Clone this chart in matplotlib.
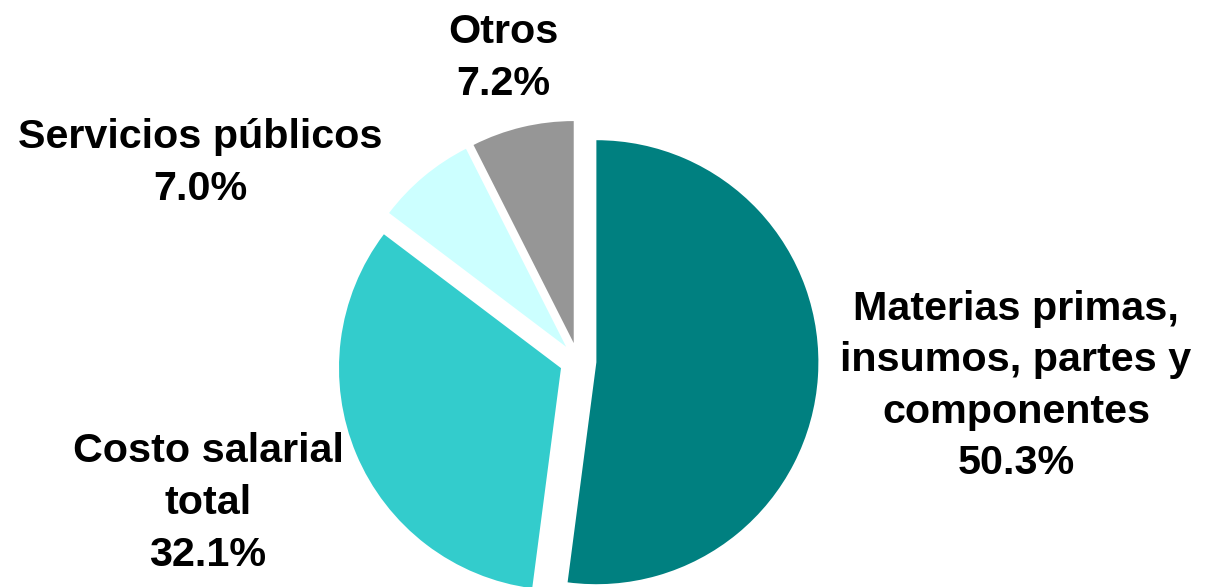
import matplotlib.pyplot as plt

# cost structure shares (%)
labels = ['Materias primas,\ninsumos, partes y\ncomponentes', 'Costo salarial\ntotal',
          'Servicios públicos', 'Otros']
values = [50.3, 32.1, 7.0, 7.2]
colors = ['#008080', '#33CCCC', '#CCFFFF', '#969696']

W, H = 1205, 587
cx, cy, r = 578, 361, 222  # pie centre and radius in pixels

fig = plt.figure(figsize=(W / 100, H / 100), dpi=100)
ax = fig.add_axes([0, 0, 1, 1])
ax.pie(values, colors=colors, startangle=90, counterclock=False,
       explode=[0.083] * 4, radius=1, wedgeprops=dict(linewidth=0))
ax.set_xlim(-cx / r, (W - cx) / r)
ax.set_ylim(-(H - cy) / r, cy / r)
ax.set_aspect('auto')
ax.axis('off')

# label centres in pixels
pos = [(1016, 386), (208, 503), (200, 163), (503, 58)]
for lab, v, (x, y) in zip(labels, values, pos):
    fig.text(x / W, 1 - y / H, f'{lab}\n{v:.1f}%', ha='center', va='center',
             fontsize=29.7, fontweight='bold', family='Liberation Sans',
             linespacing=1.45, color='black')

fig.savefig('out.png', dpi=100)
